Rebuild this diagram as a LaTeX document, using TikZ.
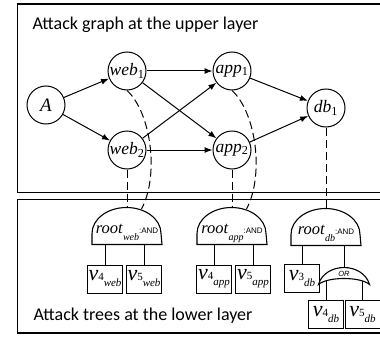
\documentclass[tikz,border=0pt]{standalone}
\usepackage{fontspec}
\setmainfont{Liberation Serif}
\newfontfamily\layerfont{Carlito}
\newfontfamily\gatefont{Liberation Sans}
\usepackage{tikz}
\usetikzlibrary{arrows.meta}
\usetikzlibrary{positioning}
\usetikzlibrary{backgrounds}

\newcommand{\vuln}[2]{{\fontsize{22}{22}\selectfont\textit{v}}{\fontsize{11}{11}\selectfont #1}\raisebox{-6pt}{\fontsize{11}{11}\selectfont\textit{#2}}}
\newcommand{\rootlab}[1]{{\fontsize{16.5}{18}\selectfont\textit{root}}\raisebox{-7.5pt}{\fontsize{10}{10}\selectfont\textit{#1}}\raisebox{0pt}{\fontsize{8}{9}\gatefont :AND}}

\begin{document}
\begin{tikzpicture}
          [x=1pt, y=1pt, on grid, line width=1pt, >={Latex[length=8pt, width=6pt]},
           state/.style={draw, circle, minimum size=38pt, inner sep=0pt, font=\fontsize{17.5}{19}\selectfont},
           leaf/.style={draw, minimum width=35pt, minimum height=28pt, inner sep=0pt},
           gate/.style={minimum width=69pt, minimum height=37pt, inner sep=0pt, text height=22pt, text depth=7pt},
           gateshape/.style={draw, fill=white, line width=1.1pt},
           frame/.style={draw, line width=1.3pt},
           layertitle/.style={anchor=base west, inner sep=0pt, font=\layerfont\fontsize{18}{20}\selectfont},
           link/.style={dash pattern=on 8pt off 4pt}]
          \useasboundingbox (0,0) rectangle (380,-337);

          % the two layers
          \draw[frame] (17.5,-4) rectangle (400,-192.5);
          \draw[frame] (17.5,-199.5) rectangle (400,-333);
          \node (uppertitle) [layertitle] at (32,-29.5) {Attack graph at the upper layer};
          \node (lowertitle) [layertitle] at (33,-320) {Attack trees at the lower layer};

          % attack graph
          \node (A) [state] at (46,-105) {\fontsize{19}{20}\selectfont\textit{A}};
          \node (web1) [state, above right = 34pt and 81pt of A] {\textit{web}\textsubscript{1}};
          \node (web2) [state, below = 79pt of web1] {\textit{web}\textsubscript{2}};
          \node (app1) [state, right = 105pt of web1] {\textit{app}\textsubscript{1}};
          \node (app2) [state, right = 105pt of web2] {\textit{app}\textsubscript{2}};
          \node (db1) [state, below right = 37pt and 94pt of app1] {\textit{db}\textsubscript{1}};

          \draw[->] (A) -- (web1);
          \draw[->] (A) -- (web2);
          \draw[->] (web1) -- (app1);
          \draw[->] (web1) -- (app2);
          \draw[->] (web2) -- (app1);
          \draw[->] (web2) -- (app2);
          \draw[->] (app1) -- (db1);
          \draw[->] (app2) -- (db1);

          % attack trees
          \node (rweb) [gate, below = 75.5pt of web2] {\rootlab{web}};
          \node (rapp) [gate, below = 75.5pt of app2] {\rootlab{app}};
          \node (rdb) [gate, below = 118.5pt of db1] {\rootlab{db}};

          \node (v4web) [leaf, below left = 53.5pt and 22pt of rweb] {\vuln{4}{web}};
          \node (v5web) [leaf, right = 39pt of v4web] {\vuln{5}{web}};
          \node (v4app) [leaf, below left = 53.5pt and 18pt of rapp] {\vuln{4}{app}};
          \node (v5app) [leaf, right = 39pt of v4app] {\vuln{5}{app}};
          \node (v3db) [leaf, below left = 52pt and 24pt of rdb] {\vuln{3}{db}};
          \node (orgate) [below right = 49.5pt and 18pt of rdb, minimum width=50pt, minimum height=16pt, inner sep=0pt,
                          text height=5pt, text depth=5pt, font=\gatefont\itshape\fontsize{7.5}{8}\selectfont] {OR};
          \node (v4db) [leaf, below left = 38.5pt and 18pt of orgate] {\vuln{4}{db}};
          \node (v5db) [leaf, right = 36.5pt of v4db] {\vuln{5}{db}};

          \draw (rweb.south -| v4web.north) -- (v4web.north);
          \draw (rweb.south -| v5web.north) -- (v5web.north);
          \draw (rapp.south -| v4app.north) -- (v4app.north);
          \draw (rapp.south -| v5app.north) -- (v5app.north);
          \draw (rdb.south -| v3db.north) -- (v3db.north);
          \draw (rdb.south -| orgate.north) -- (orgate.north);

          \begin{scope}[on background layer]
            \draw (v4db.north) -- (v4db.north |- orgate.center);
            \draw (v5db.north) -- (v5db.north |- orgate.center);
            \draw[gateshape] (orgate.south west) .. controls +(3,11) and +(-11,0) .. (orgate.north)
                 .. controls +(11,0) and +(-3,11) .. (orgate.south east)
                 .. controls +(-9,8) and +(9,8) .. (orgate.south west) -- cycle;
            \draw[gateshape] (rweb.south west) -- ++(0,11) arc[start angle=180, end angle=0, x radius=34.5pt, y radius=26pt] -- (rweb.south east) -- cycle;
            \draw[gateshape] (rapp.south west) -- ++(0,11) arc[start angle=180, end angle=0, x radius=34.5pt, y radius=26pt] -- (rapp.south east) -- cycle;
            \draw[gateshape] (rdb.south west) -- ++(0,11) arc[start angle=180, end angle=0, x radius=34.5pt, y radius=26pt] -- (rdb.south east) -- cycle;
          \end{scope}

          % mapping between the layers
          \draw[link] (web2.south) -- (rweb.north);
          \draw[link] (app2.south) -- (rapp.north);
          \draw[link] (db1.south) -- (rdb.north);
          \draw[link] (web1.south) .. controls +(24,-22) and +(18,34) .. ([xshift=14.5pt, yshift=-2.5pt]rweb.north);
          \draw[link] (app1.south) .. controls +(24,-22) and +(18,34) .. ([xshift=14.5pt, yshift=-2.5pt]rapp.north);

        \end{tikzpicture}
\end{document}
